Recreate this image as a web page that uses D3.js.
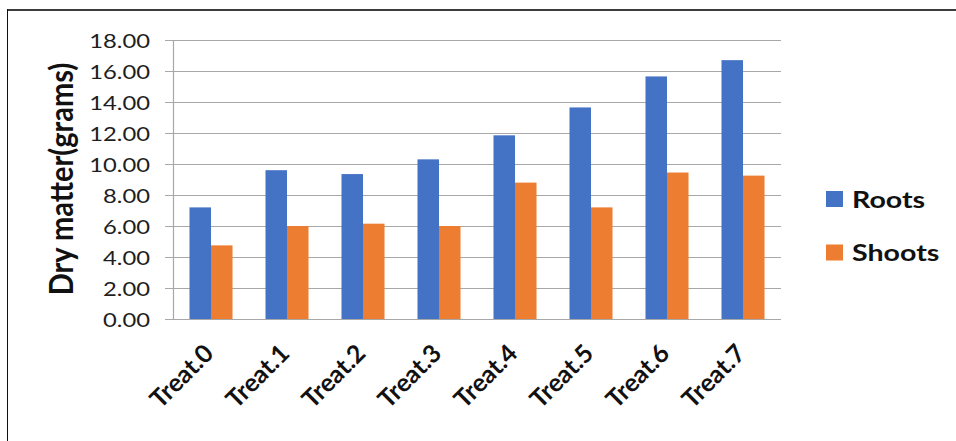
<!DOCTYPE html>
<html>
<head>
<meta charset="utf-8">
<script src="https://cdn.jsdelivr.net/npm/d3@7"></script>
<style>
  html, body { margin: 0; padding: 0; background: #fff; }
  svg { display: block; }
</style>
</head>
<body>
<svg id="chart" width="956" height="441"></svg>
<script>
// Dry matter per treatment (grams)
const categories = ["Treat.0", "Treat.1", "Treat.2", "Treat.3", "Treat.4", "Treat.5", "Treat.6", "Treat.7"];
const roots  = [7.2, 9.6, 9.35, 10.3, 11.85, 13.65, 15.65, 16.7];
const shoots = [4.75, 6.0, 6.15, 6.0, 8.8, 7.2, 9.45, 9.25];
const seriesNames = ["Roots", "Shoots"];
const seriesColors = ["#4472C4", "#ED7D31"];
const yTicks = [0, 2, 4, 6, 8, 10, 12, 14, 16, 18];
const yTitle = "Dry matter(grams)";

const W = 956, H = 441;
const plot = { left: 173, right: 781, top: 40, bottom: 319 };
const FONT = "Lato, 'Open Sans', 'Liberation Sans', sans-serif";
// text is drawn slightly wide, as in the original export
const TICK_SX = 1.22, LEGEND_SX = 1.3, TITLE_SX = 1.1;

const svg = d3.select("#chart");
svg.append("rect").attr("width", W).attr("height", H).attr("fill", "#fff");

// frame edges
svg.append("line").attr("x1", 7).attr("x2", W).attr("y1", 10).attr("y2", 10)
  .attr("stroke", "#3c3c3c").attr("stroke-width", 2);
svg.append("line").attr("x1", 7.5).attr("x2", 7.5).attr("y1", 9).attr("y2", H)
  .attr("stroke", "#111").attr("stroke-width", 1);

const y = d3.scaleLinear().domain([0, 18]).range([plot.bottom, plot.top]);
const x0 = d3.scaleBand().domain(categories).range([plot.left, plot.right])
  .paddingInner(0.434).paddingOuter(0.217);
const x1 = d3.scaleBand().domain(seriesNames).range([0, x0.bandwidth()]);

// gridlines + y tick labels
const stub = 8;
const yAxis = d3.axisLeft(y).tickValues(yTicks)
  .tickSize(-(plot.right - plot.left + stub))
  .tickPadding(0)
  .tickFormat(d3.format(".2f"));
const gy = svg.append("g").attr("transform", `translate(${plot.left - stub},0)`).call(yAxis);
gy.select(".domain").remove();
gy.selectAll(".tick line").attr("stroke", "#a8a8a8").attr("stroke-width", 1.2);
gy.selectAll(".tick text")
  .attr("x", -15 / TICK_SX).attr("dy", null).attr("y", 7)
  .attr("transform", `scale(${TICK_SX},1)`)
  .attr("font-family", FONT).attr("font-size", 19.5).attr("fill", "#1e1e1e")
  .attr("text-anchor", "end");

// vertical axis line
svg.append("line").attr("x1", plot.left + 0.5).attr("x2", plot.left + 0.5)
  .attr("y1", plot.top).attr("y2", plot.bottom)
  .attr("stroke", "#a8a8a8").attr("stroke-width", 1.2);

// bars
const groups = svg.append("g").selectAll("g").data(categories).join("g")
  .attr("transform", d => `translate(${x0(d)},0)`);
groups.selectAll("rect")
  .data((d, i) => [{ s: "Roots", v: roots[i] }, { s: "Shoots", v: shoots[i] }])
  .join("rect")
  .attr("x", d => x1(d.s))
  .attr("width", x1.bandwidth())
  .attr("y", d => y(d.v))
  .attr("height", d => y(0) - y(d.v))
  .attr("fill", d => seriesColors[seriesNames.indexOf(d.s)]);

// category labels, rotated 45°
svg.append("g").selectAll("text").data(categories).join("text")
  .attr("transform", d => `translate(${x0(d) + x0.bandwidth() / 2 + 4},${plot.bottom + 36}) rotate(-45)`)
  .attr("text-anchor", "end")
  .attr("font-family", FONT).attr("font-weight", 700).attr("font-size", 25)
  .attr("fill", "#111")
  .text(d => d);

// y axis title
svg.append("text")
  .attr("transform", `translate(73,179) scale(${TITLE_SX},1) rotate(-90)`)
  .attr("text-anchor", "middle")
  .attr("font-family", FONT).attr("font-weight", 700).attr("font-size", 29)
  .attr("fill", "#111")
  .text(yTitle);

// legend
const legend = svg.append("g").selectAll("g").data(seriesNames).join("g")
  .attr("transform", (d, i) => `translate(826,${191 + i * 53.5})`);
legend.append("rect").attr("width", 17).attr("height", 16)
  .attr("fill", (d, i) => seriesColors[i]);
legend.append("text")
  .attr("transform", `translate(26,16.5) scale(${LEGEND_SX},1)`)
  .attr("font-family", FONT).attr("font-weight", 700).attr("font-size", 22)
  .attr("fill", "#111")
  .text(d => d);
</script>
</body>
</html>
